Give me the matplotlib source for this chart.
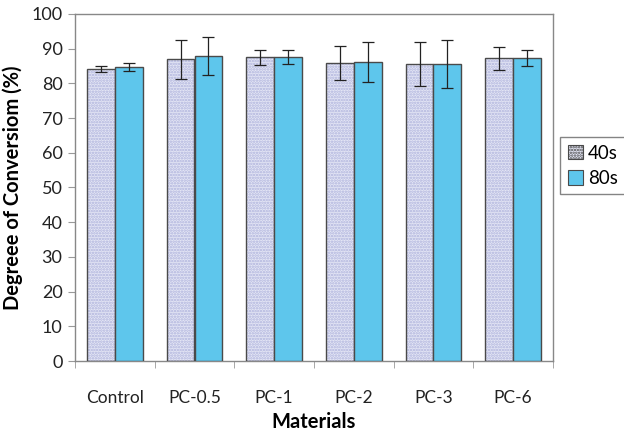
import matplotlib
matplotlib.use("Agg")
import matplotlib.pyplot as plt
import numpy as np
from matplotlib.patches import Patch

plt.rcParams['font.family'] = ['Lato', 'DejaVu Sans']
plt.rcParams['hatch.linewidth'] = 1.2

categories = ["Control", "PC-0.5", "PC-1", "PC-2", "PC-3", "PC-6"]
vals_40 = [84.1, 86.9, 87.5, 86.0, 85.6, 87.3]
err_40 = [0.8, 5.6, 2.2, 4.9, 6.3, 3.3]
vals_80 = [84.7, 87.9, 87.6, 86.2, 85.6, 87.3]
err_80 = [1.1, 5.5, 2.0, 5.8, 6.8, 2.3]
series_labels = ["40s", "80s"]

fig = plt.figure(figsize=(6.24, 4.36), dpi=100)
ax = fig.add_axes([75/624, 1-361/436, (553-75)/624, (361-14)/436])

x = np.arange(len(categories))
w = 0.35
c40_face = '#e4e6f5'
c40_hatch = '#aeb2dc'
c80 = '#5ec6ec'
edge = '#4a4a4a'
hatch = '......'

# 40s bars: hatched fill then outline
ax.bar(x - w/2, vals_40, w, color=c40_face, edgecolor=c40_hatch, hatch=hatch, linewidth=0, zorder=2)
ax.bar(x - w/2, vals_40, w, fill=False, edgecolor=edge, linewidth=1.0, zorder=3)
ax.bar(x + w/2, vals_80, w, color=c80, edgecolor=edge, linewidth=1.0, zorder=3)

ax.errorbar(x - w/2, vals_40, yerr=err_40, fmt='none', ecolor='#222222', elinewidth=0.9, capsize=4, capthick=0.9, zorder=4)
ax.errorbar(x + w/2, vals_80, yerr=err_80, fmt='none', ecolor='#222222', elinewidth=0.9, capsize=4, capthick=0.9, zorder=4)

ax.set_ylim(0, 100)
ax.set_xlim(-0.5, len(categories) - 0.5)
ax.set_yticks(np.arange(0, 101, 10))
ax.set_xticks(x)
ax.set_xticklabels(categories, fontsize=12.5, color='#222222')
ax.set_xticks(np.arange(-0.5, len(categories) - 0.4, 1), minor=True)
ax.tick_params(axis='x', which='major', length=0, pad=21)
ax.tick_params(axis='x', which='minor', length=5, color='#999999', direction='out')
ax.tick_params(axis='y', length=5, color='#999999', labelsize=13, labelcolor='#222222', pad=4)

for s in ax.spines.values():
    s.set_color('#888888')
    s.set_linewidth(1.0)

ax.set_xlabel("Materials", fontsize=14.5, fontweight='bold', labelpad=4)
ax.set_ylabel("Degreee of Conversiom (%)", fontsize=14.5, fontweight='bold', labelpad=6)

handles = [Patch(facecolor=c40_face, edgecolor=edge, hatch=hatch, linewidth=0.8),
           Patch(facecolor=c80, edgecolor=edge, linewidth=0.8)]
leg = fig.legend(handles, series_labels, loc='upper left', bbox_to_anchor=(560/624, 1-137/436),
                 fontsize=13.5, frameon=True, fancybox=False, edgecolor='#666666',
                 handlelength=0.8, handleheight=0.8, handletextpad=0.3, borderpad=0.4,
                 labelspacing=0.45, borderaxespad=0)
leg.get_frame().set_linewidth(1.0)

fig.savefig("out.png", dpi=100)
